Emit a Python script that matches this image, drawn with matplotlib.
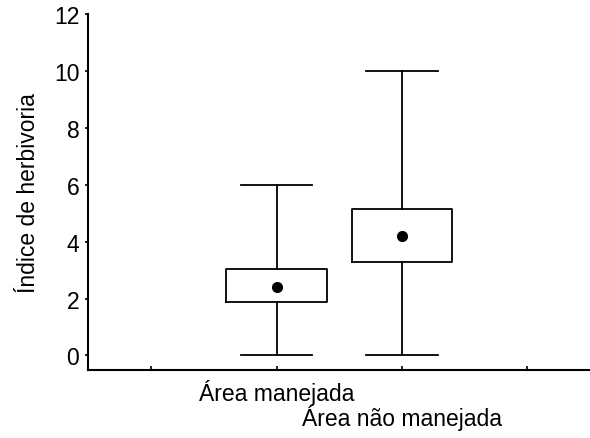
import matplotlib
matplotlib.use("Agg")
import matplotlib.pyplot as plt

plt.rcParams["font.family"] = ["Liberation Sans", "DejaVu Sans"]

groups = ["Área manejada", "Área não manejada"]
means = [2.42, 4.20]
box_low = [1.87, 3.27]
box_high = [3.04, 5.15]
whisk_min = [0.0, 0.0]
whisk_max = [6.0, 10.0]
positions = [1, 2]

stats = []
for i, g in enumerate(groups):
    stats.append({
        "label": g,
        "mean": means[i],
        "med": means[i],
        "q1": box_low[i],
        "q3": box_high[i],
        "whislo": whisk_min[i],
        "whishi": whisk_max[i],
        "fliers": [],
    })

fig = plt.figure(figsize=(5.9, 4.39), dpi=100)
ax = fig.add_axes([88.4 / 590, 68.3 / 439, 1 - 88.4 / 590, (370.7 - 15) / 439])

lw = 1.3
ax.bxp(
    stats,
    positions=positions,
    widths=0.8,
    capwidths=0.57,
    showmeans=True,
    boxprops=dict(color="black", linewidth=lw),
    whiskerprops=dict(color="black", linewidth=lw),
    capprops=dict(color="black", linewidth=lw),
    medianprops=dict(linewidth=0),
    meanprops=dict(marker="o", markerfacecolor="black", markeredgecolor="black",
                   markersize=7),
)

ax.set_xlim(-0.5, 3.5)
ax.set_ylim(-0.5, 12)
ax.set_yticks(range(0, 13, 2))
ax.set_xticks([0, 1, 2, 3])
ax.set_xticklabels([""] + groups + [""])
ax.set_ylabel("Índice de herbivoria", fontsize=16.5, labelpad=10)

ax.spines["top"].set_visible(False)
ax.spines["right"].set_visible(False)
ax.spines["left"].set_linewidth(1.5)
ax.spines["bottom"].set_linewidth(1.5)
ax.tick_params(axis="y", direction="out", length=2.5, width=1.2, labelsize=16.5, pad=4)
ax.tick_params(axis="x", direction="in", length=3, width=1.2, labelsize=16.5, pad=7)
ax.xaxis.get_major_ticks()[2].set_pad(25)

fig.savefig("out.png", dpi=100)
